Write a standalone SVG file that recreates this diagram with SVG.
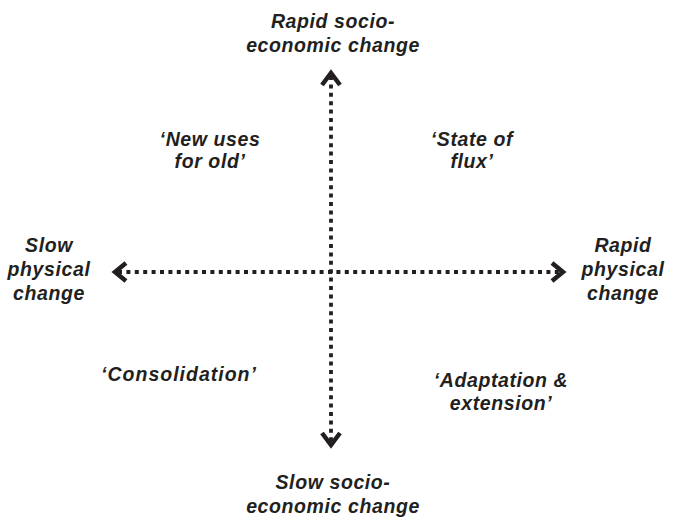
<svg xmlns="http://www.w3.org/2000/svg" width="683" height="517" viewBox="0 0 683 517">
<style>
  text { font-family: "Liberation Sans", Arial, sans-serif; font-weight: bold; font-style: italic; font-size: 19.5px; fill: #231f20; text-anchor: middle; letter-spacing: 0.6px; }
  .axis { stroke: #231f20; stroke-width: 3.8; stroke-dasharray: 4 4.4; fill: none; }
  .head { stroke: #231f20; stroke-width: 4.5; fill: none; stroke-linejoin: miter; stroke-linecap: butt; }
</style>
<rect width="683" height="517" fill="#ffffff"/>
<g id="connectors">
  <line class="axis" x1="118" y1="272" x2="560" y2="272"/>
  <line class="axis" x1="331" y1="76" x2="331" y2="442"/>
  <polyline class="head" points="126,263 115,272 126,281"/>
  <polyline class="head" points="552,263 563,272 552,281"/>
  <polyline class="head" points="322,85 331,73 340,85"/>
  <polyline class="head" points="322,433 331,445 340,433"/>
</g>
<g id="top-label"><text x="333" y="28">Rapid socio-</text><text x="333" y="52">economic change</text></g>
<g id="bottom-label"><text x="333" y="489">Slow socio-</text><text x="333" y="513">economic change</text></g>
<g id="left-label"><text x="49" y="252">Slow</text><text x="49" y="276">physical</text><text x="49" y="300">change</text></g>
<g id="right-label"><text x="623" y="252">Rapid</text><text x="623" y="276">physical</text><text x="623" y="300">change</text></g>
<g id="q-new-uses"><text x="210" y="146">‘New uses</text><text x="210" y="168">for old’</text></g>
<g id="q-state-of-flux"><text x="472" y="146">‘State of</text><text x="472" y="168">flux’</text></g>
<g id="q-consolidation"><text x="179" y="381" style="letter-spacing:1px">‘Consolidation’</text></g>
<g id="q-adaptation"><text x="501" y="387">‘Adaptation &amp;</text><text x="501" y="410">extension’</text></g>
</svg>
